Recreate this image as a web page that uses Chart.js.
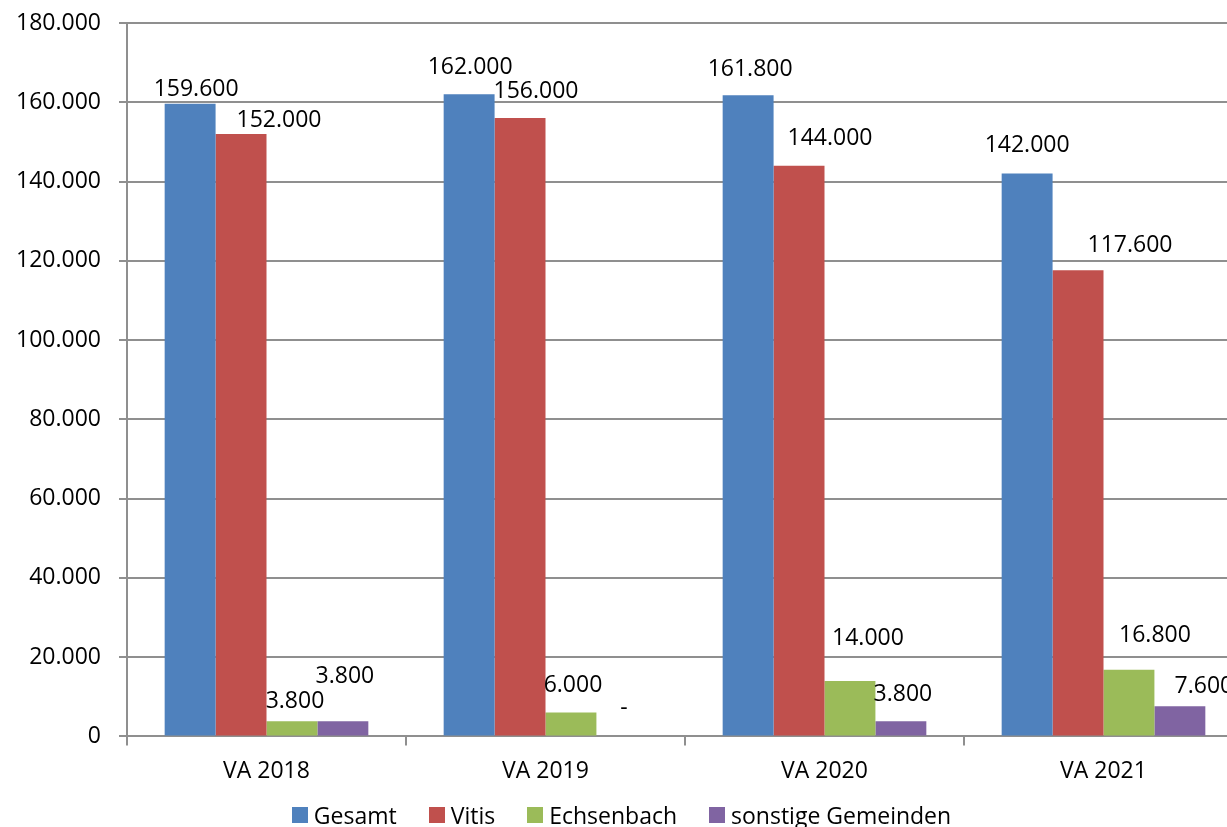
<!DOCTYPE html>
<html>
<head>
<meta charset="utf-8">
<script src="https://cdn.jsdelivr.net/npm/chart.js@4/dist/chart.umd.min.js"></script>
<style>
  body { margin: 0; overflow: hidden; background: #fff; }
  #wrap { position: relative; width: 1250px; height: 827px; }
  #legend {
    position: absolute; left: 0; top: 802px; width: 1243px;
    display: flex; justify-content: center; gap: 32px;
    font: 23px "Open Sans", sans-serif; line-height: 26px; color: #000;
  }
  #legend .item { display: flex; align-items: center; white-space: nowrap; }
  #legend .box { width: 16px; height: 16px; margin-right: 6px; }
</style>
</head>
<body>
<div id="wrap">
  <canvas id="chart"></canvas>
  <div id="legend"></div>
</div>
<script>
const CATEGORIES = ['VA 2018', 'VA 2019', 'VA 2020', 'VA 2021'];
const SERIES_NAMES = ['Gesamt', 'Vitis', 'Echsenbach', 'sonstige Gemeinden'];
const GESAMT = [159600, 162000, 161800, 142000];
const VITIS = [152000, 156000, 144000, 117600];
const ECHSENBACH = [3800, 6000, 14000, 16800];
const SONSTIGE = [3800, 0, 3800, 7600];
const Y_MAX = 180000;
const Y_STEP = 20000;

const COLORS = ['#4F81BD', '#C0504D', '#9BBB59', '#8064A2'];
const FONT = { family: '"Open Sans", sans-serif', size: 23 };
const GRID = '#8f8f8f';
// value labels were nudged around by hand in the original, px from bar centre / bar top
const LABEL_NUDGE = [
    [[6, -14], [1, -27], [2, -26], [0, -28]],
    [[38, -14], [16, -27], [31, -27], [52, -25]],
    [[3, -20], [2, -27], [18, -42], [26, -34]],
    [[2, -45], [2, -28], [2, -27], [24, -20]]
];

function fmt(v) {
    return String(v).replace(/\B(?=(\d{3})+(?!\d))/g, '.');
}

const barLabels = {
    id: 'barLabels',
    afterDatasetsDraw(chart) {
        const ctx = chart.ctx;
        ctx.save();
        ctx.font = FONT.size + 'px ' + FONT.family;
        ctx.fillStyle = '#000';
        ctx.textAlign = 'center';
        ctx.textBaseline = 'middle';
        chart.data.datasets.forEach((ds, i) => {
            chart.getDatasetMeta(i).data.forEach((bar, j) => {
                const [dx, dy] = LABEL_NUDGE[i][j];
                const v = ds.data[j];
                ctx.fillText(v === 0 ? '-' : fmt(v), bar.x + dx, bar.y + dy);
            });
        });
        ctx.restore();
    }
};

const seriesData = [GESAMT, VITIS, ECHSENBACH, SONSTIGE];
const datasets = SERIES_NAMES.map((name, i) => ({
    label: name,
    data: seriesData[i],
    backgroundColor: COLORS[i],
    borderWidth: 0,
    categoryPercentage: 0.73,
    barPercentage: 1
}));

new Chart(document.getElementById('chart'), {
    type: 'bar',
    data: { labels: CATEGORIES, datasets: datasets },
    options: {
        responsive: true,
        maintainAspectRatio: false,
        animation: false,
        layout: { padding: { left: 0, right: 7, top: 23, bottom: 30 } },
        plugins: {
            legend: { display: false },
            tooltip: { enabled: false }
        },
        scales: {
            x: {
                grid: { offset: true, drawOnChartArea: false, tickLength: 9, color: GRID, lineWidth: 2 },
                border: { color: GRID, width: 2 },
                ticks: { font: FONT, color: '#000', padding: 12 }
            },
            y: {
                min: 0,
                max: Y_MAX,
                ticks: {
                    stepSize: Y_STEP,
                    font: FONT,
                    color: '#000',
                    padding: 18,
                    callback: v => fmt(v)
                },
                grid: { color: GRID, tickLength: 8, lineWidth: 2 },
                border: { color: GRID, width: 2 },
                afterFit: s => {
                    s.width = 127;
                    s.paddingTop = 0;
                    s.paddingBottom = 0;
                }
            }
        }
    },
    plugins: [barLabels]
});

const legend = document.getElementById('legend');
SERIES_NAMES.forEach((name, i) => {
    const item = document.createElement('div');
    item.className = 'item';
    const box = document.createElement('span');
    box.className = 'box';
    box.style.background = COLORS[i];
    item.appendChild(box);
    item.appendChild(document.createTextNode(name));
    legend.appendChild(item);
});
</script>
</body>
</html>
